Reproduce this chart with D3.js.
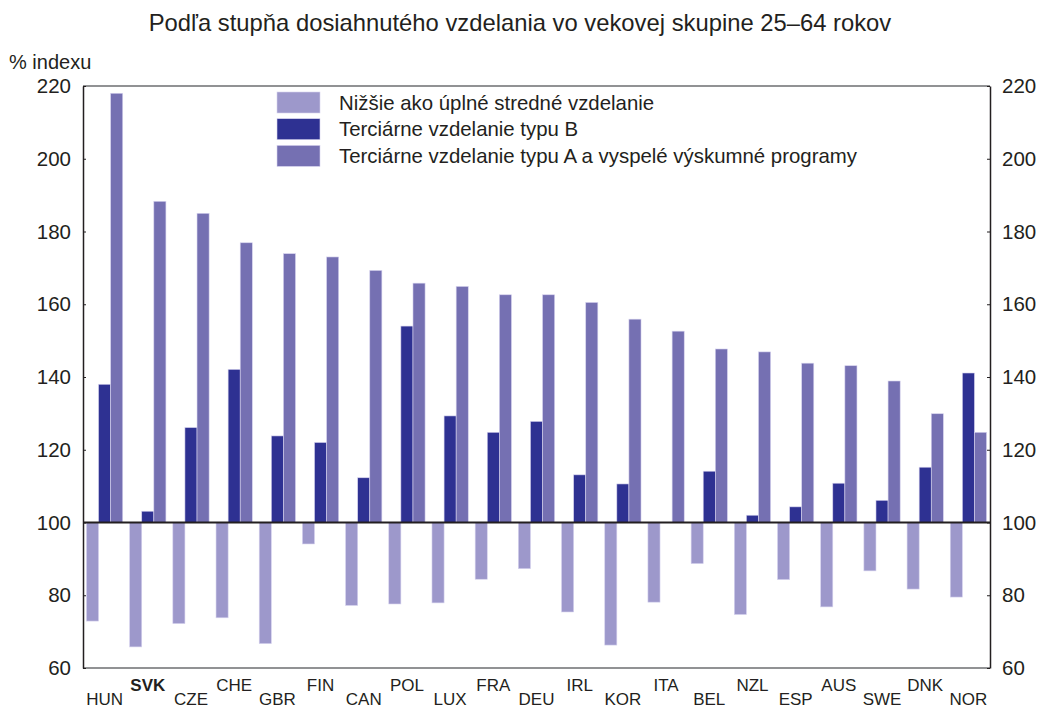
<!DOCTYPE html>
<html>
<head>
<meta charset="utf-8">
<script src="https://cdn.jsdelivr.net/npm/d3@7"></script>
<style>
  body { margin: 0; background: #fff; }
  svg text { font-family: "Liberation Sans", Arial, sans-serif; fill: #231f20; }
</style>
</head>
<body>
<div id="chart"></div>
<script>
const countries = ["HUN", "SVK", "CZE", "CHE", "GBR", "FIN", "CAN", "POL", "LUX", "FRA", "DEU",
                   "IRL", "KOR", "ITA", "BEL", "NZL", "ESP", "AUS", "SWE", "DNK", "NOR"]
const belowUpperSecondary = [72.9, 65.8, 72.2, 73.8, 66.7, 94.1, 77.2, 77.6, 77.9, 84.4, 87.3,
                             75.4, 66.3, 78.1, 88.7, 74.7, 84.3, 76.8, 86.7, 81.7, 79.5]
const tertiaryB = [138, 103.1, 126.1, 142.1, 123.8, 122, 112.3, 154, 129.3, 124.8, 127.8,
                   113.1, 110.6, null, 114.1, 102, 104.3, 110.8, 106.1, 115.2, 141.1]
const tertiaryA = [218, 188.3, 185, 176.9, 173.9, 173, 169.3, 165.8, 164.9, 162.6, 162.6,
                   160.5, 155.9, 152.6, 147.7, 146.9, 143.8, 143.1, 138.9, 129.9, 124.8]
const seriesNames = ["Nižšie ako úplné stredné vzdelanie",
                     "Terciárne vzdelanie typu B",
                     "Terciárne vzdelanie typu A a vyspelé výskumné programy"]
const yTicks = [60, 80, 100, 120, 140, 160, 180, 200, 220]
const highlight = "SVK"

const colors = ["#9d98cb", "#2e3192", "#7570b2"]

const width = 1039
const height = 709
const margin = {top: 86, right: 49, bottom: 41, left: 83}
const chartWidth = width - margin.left - margin.right
const chartHeight = height - margin.top - margin.bottom

const series = [belowUpperSecondary, tertiaryB, tertiaryA]

const svg = d3.select("#chart")
  .append("svg")
    .attr("width", width)
    .attr("height", height)

// title
svg.append("text")
  .attr("x", 520)
  .attr("y", 31)
  .attr("text-anchor", "middle")
  .style("font-size", "23.8px")
  .text("Podľa stupňa dosiahnutého vzdelania vo vekovej skupine 25–64 rokov")

svg.append("text")
  .attr("x", 9)
  .attr("y", 69)
  .style("font-size", "20px")
  .text("% indexu")

const g = svg.append("g")
  .attr("transform", "translate(" + margin.left + "," + margin.top + ")")

const xScale = d3.scaleBand()
  .domain(countries)
  .range([0, chartWidth])
  .paddingInner(0.16)
  .paddingOuter(0.08)

const xInner = d3.scaleBand()
  .domain(d3.range(series.length))
  .range([0, xScale.bandwidth()])

const yScale = d3.scaleLinear()
  .domain([60, 220])
  .range([chartHeight, 0])

// bars
series.forEach((values, s) => {
  g.append("g")
    .selectAll("rect")
    .data(countries.map((c, i) => ({c, v: values[i]})).filter(d => d.v != null))
    .join("rect")
      .attr("x", d => xScale(d.c) + xInner(s))
      .attr("width", xInner.bandwidth())
      .attr("y", d => yScale(Math.max(d.v, 100)))
      .attr("height", d => Math.abs(yScale(d.v) - yScale(100)))
      .attr("fill", colors[s])
      .attr("stroke", "#d6d3ee")
      .attr("stroke-width", 0.6)
})

// frame top / bottom
g.append("line")
  .attr("x1", 0).attr("x2", chartWidth)
  .attr("y1", 0).attr("y2", 0)
  .attr("stroke", "#6d6e71").attr("stroke-width", 1.5)
g.append("line")
  .attr("x1", 0).attr("x2", chartWidth)
  .attr("y1", chartHeight).attr("y2", chartHeight)
  .attr("stroke", "#6d6e71").attr("stroke-width", 1.5)

// axes
const yAxisLeft = g.append("g")
  .call(d3.axisLeft(yScale).tickValues(yTicks).tickSizeInner(-3).tickSizeOuter(0).tickPadding(12))
const yAxisRight = g.append("g")
  .attr("transform", "translate(" + chartWidth + ",0)")
  .call(d3.axisRight(yScale).tickValues(yTicks).tickSizeInner(-3).tickSizeOuter(0).tickPadding(12))

;[yAxisLeft, yAxisRight].forEach(a => {
  a.select(".domain").attr("stroke", "#231f20").attr("stroke-width", 1.5)
  a.selectAll(".tick line").attr("stroke", "#231f20")
  a.selectAll("text").style("font-size", "20.5px").attr("fill", "#231f20")
})

// 100 baseline
g.append("line")
  .attr("x1", 0).attr("x2", chartWidth)
  .attr("y1", yScale(100)).attr("y2", yScale(100))
  .attr("stroke", "#231f20").attr("stroke-width", 2)

// country labels, staggered in two rows
g.append("g")
  .selectAll("text")
  .data(countries)
  .join("text")
    .attr("x", d => xScale(d) + xScale.bandwidth() / 2)
    .attr("y", (d, i) => i % 2 === 1 ? chartHeight + 23 : chartHeight + 37)
    .attr("text-anchor", "middle")
    .style("font-size", "17px")
    .style("font-weight", d => d === highlight ? "bold" : "normal")
    .text(d => d)

// legend
const legend = svg.append("g")
  .attr("transform", "translate(277,92)")
const item = legend.selectAll("g")
  .data(seriesNames)
  .join("g")
    .attr("transform", (d, i) => "translate(0," + i * 26.7 + ")")
item.append("rect")
  .attr("width", 43)
  .attr("height", 21)
  .attr("fill", (d, i) => colors[i])
  .attr("stroke", "#d6d3ee")
  .attr("stroke-width", 0.6)
item.append("text")
  .attr("x", 62)
  .attr("y", 10.5)
  .attr("dy", "0.35em")
  .style("font-size", "20.4px")
  .text(d => d)
</script>
</body>
</html>
